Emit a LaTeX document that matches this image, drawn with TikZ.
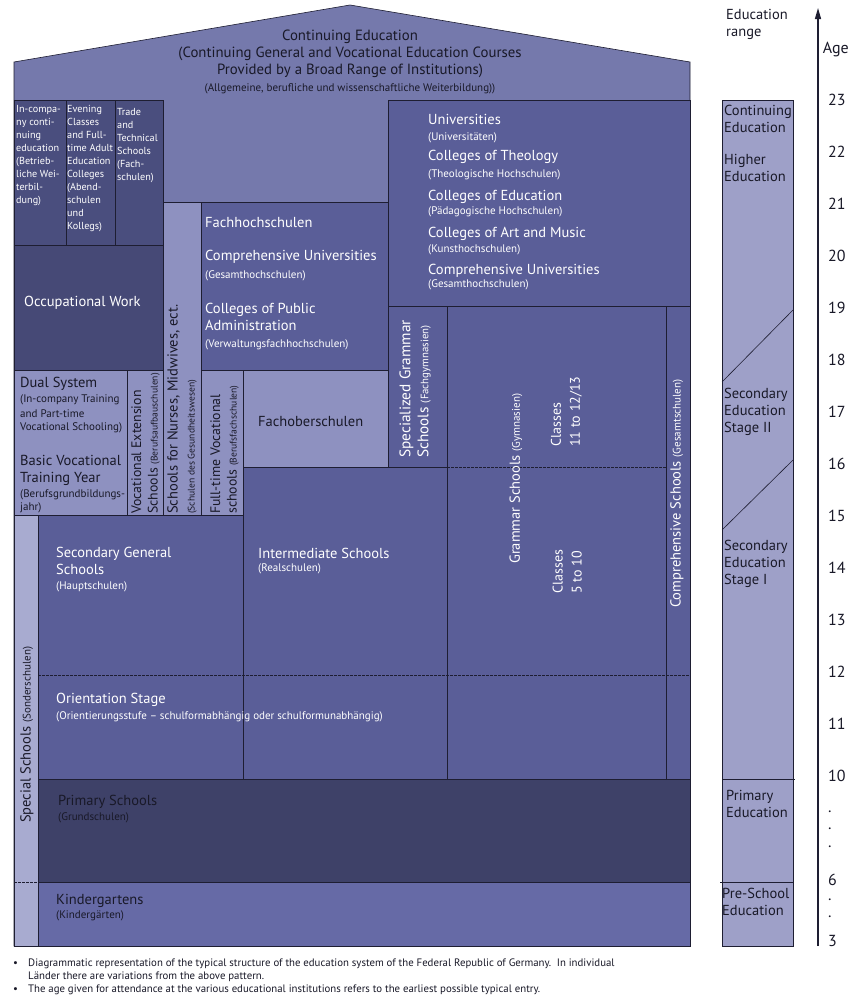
\documentclass[tikz,border=0pt]{standalone}
\usepackage{fontspec}
\setmainfont{PT Sans}
\usetikzlibrary{arrows.meta}

\definecolor{roofc}{RGB}{117,121,172}
\definecolor{midc}{RGB}{90,94,152}
\definecolor{darkc}{RGB}{74,78,126}
\definecolor{occc}{RGB}{70,73,118}
\definecolor{primc}{RGB}{62,65,104}
\definecolor{lightc}{RGB}{142,145,192}
\definecolor{specc}{RGB}{168,171,208}
\definecolor{kindc}{RGB}{102,106,166}
\definecolor{rangec}{RGB}{158,160,200}
\definecolor{linec}{RGB}{30,30,50}
\definecolor{darktxt}{RGB}{25,25,40}

\newcommand\ttlsz{\fontsize{14.8}{17}\selectfont}
\newcommand\bigsz{\fontsize{14.5}{17}\selectfont}
\newcommand\vbigsz{\fontsize{13.8}{16.5}\selectfont}
\newcommand\cellsz{\fontsize{10.2}{13}\selectfont}
\newcommand\smsz{\fontsize{11}{13}\selectfont}
\newcommand\vsmsz{\fontsize{9.6}{12}\selectfont}
\newcommand\rngsz{\fontsize{14.5}{16.8}\selectfont}
\newcommand\agesz{\fontsize{16}{18}\selectfont}
\newcommand\notesz{\fontsize{10.8}{13}\selectfont}

\begin{document}
\begin{tikzpicture}[x=1pt,y=-1pt,
box/.style={draw=linec,line width=0.6pt,fill=#1},
dline/.style={draw=linec,line width=0.6pt,dashed,dash pattern=on 2.5pt off 1.5pt},
wbig/.style={anchor=west,text=white,font=\bigsz},
wsm/.style={anchor=west,text=white,font=\smsz},
dbig/.style={anchor=west,text=darktxt,font=\bigsz},
dsm/.style={anchor=west,text=darktxt,font=\smsz},
cell/.style={anchor=north west,align=left,text=white,font=\cellsz},
vert/.style={rotate=90,align=left},
rng/.style={anchor=north west,align=left,text=darktxt,font=\rngsz},
age/.style={anchor=west,text=darktxt,font=\agesz},
note/.style={anchor=west,text=darktxt,font=\notesz}]
\tikzstyle{every node}=[inner sep=0pt]
\fill[white] (0,0) rectangle (850,1001);
\useasboundingbox (0,0) rectangle (850,1001);

% house
\draw[box=roofc] (14,946) -- (14,62) -- (350,5) -- (690,62) -- (690,946) -- cycle;
\node[font=\ttlsz,text=darktxt,align=center] (cont) at (350,54) {Continuing Education\\(Continuing General and Vocational Education Courses\\Provided by a Broad Range of Institutions)};
\node[font=\smsz,text=darktxt] (contde) at (350,89) {(Allgemeine, berufliche und wissenschaftliche Weiterbildung))};

\draw[box=darkc] (14,100) rectangle (66,245);
\draw[box=darkc] (66,100) rectangle (115,245);
\draw[box=darkc] (115,100) rectangle (163,245);
\draw[box=occc] (14,245) rectangle (163,370);
\draw[box=midc] (388,100) rectangle (690,306);
\draw[box=lightc] (163,202) rectangle (201,515);
\draw[box=midc] (201,202) rectangle (388,370);
\draw[box=lightc] (14,370) rectangle (127,515);
\draw[box=lightc] (127,370) rectangle (163,515);
\draw[box=lightc] (201,370) rectangle (243,515);
\draw[box=lightc] (243,370) rectangle (388,467);
\draw[box=midc] (388,306) rectangle (447,467);
\draw[box=midc] (447,306) rectangle (666,779);
\draw[box=midc] (666,306) rectangle (690,779);
\draw[box=midc] (243,467) rectangle (447,779);
\draw[box=midc] (38,515) rectangle (243,779);
\draw[box=specc] (14,515) rectangle (38,946);
\draw[box=primc] (38,779) rectangle (690,882);
\draw[box=kindc] (38,882) rectangle (690,946);
\draw[dline] (447,467) -- (666,467);
\draw[dline] (38,675) -- (690,675);
\draw[dline] (14,882) -- (38,882);

% continuing education cells
\node[cell] (incomp) at (16,105) {In-compa-\\ny conti-\\nuing\\education\\(Betrieb-\\liche Wei-\\terbil-\\dung)};
\node[cell] (evening) at (67,105) {Evening\\Classes\\and Full-\\time Adult\\Education\\Colleges\\(Abend-\\schulen\\und\\Kollegs)};
\node[cell] (trade) at (117,108) {Trade\\and\\Technical\\Schools\\(Fach-\\schulen)};
\node[wbig] (occ) at (24,303) {Occupational Work};

% higher education
\node[wbig] (uni) at (428,119) {Universities};
\node[wsm] (unide) at (428,138) {(Universitäten)};
\node[wbig] (theo) at (428,157) {Colleges of Theology};
\node[wsm] (theode) at (428,175) {(Theologische Hochschulen)};
\node[wbig] (educ) at (428,197) {Colleges of Education};
\node[wsm] (educde) at (428,212) {(Pädagogische Hochschulen)};
\node[wbig] (art) at (428,234) {Colleges of Art and Music};
\node[wsm] (artde) at (428,250) {(Kunsthochschulen)};
\node[wbig] (comp) at (428,271) {Comprehensive Universities};
\node[wsm] (compde) at (428,285) {(Gesamthochschulen)};

\node[wbig] (fh) at (205,223) {Fachhochschulen};
\node[wbig] (fhcomp) at (205,257) {Comprehensive Universities};
\node[wsm] (fhcompde) at (205,276) {(Gesamthochschulen)};
\node[wbig,align=left] (admin) at (205,317) {Colleges of Public\\Administration};
\node[wsm] (adminde) at (205,345) {(Verwaltungsfachhochschulen)};

% secondary stage II
\node[dbig] (dual) at (20,384) {Dual System};
\node[dsm] (dual1) at (20,400) {(In-company Training};
\node[dsm] (dual2) at (20,414) {and Part-time};
\node[dsm] (dual3) at (20,428) {Vocational Schooling)};
\node[dbig,align=left] (basic) at (20,470) {Basic Vocational\\Training Year};
\node[dsm] (basic1) at (20,495) {(Berufsgrundbildungs-};
\node[dsm] (basic2) at (20,508) {jahr)};
\node[dbig,vert,anchor=south west,font=\vbigsz] (vocext) at (160,514) {Vocational Extension\\Schools {\vsmsz(Berufsaufbauschulen)}};
\node[dbig,vert,anchor=south west] (nurse) at (197,514) {Schools for Nurses, Midwives, ect.\\{\vsmsz(Schulen des Gesundheitswesen)}};
\node[dbig,vert,anchor=south west,font=\vbigsz] (fulltime) at (239,514) {Full-time Vocational\\schools {\vsmsz(Berufsfachschulen)}};
\node[dbig] (fos) at (258,422) {Fachoberschulen};
\node[wbig,vert,anchor=south west,font=\fontsize{15.3}{18}\selectfont] (fachgym) at (431,458) {Specialized Grammar\\Schools {\fontsize{10.8}{13}\selectfont(Fachgymnasien)}};
\node[wbig,vert,anchor=west] (gym) at (516,564) {Grammar Schools {\smsz(Gymnasien)}};
\node[wbig,vert,anchor=south west,font=\fontsize{14}{19}\selectfont] (cls11) at (582,447) {Classes\\11 to 12/13};
\node[wbig,vert,anchor=south west,font=\fontsize{14}{19}\selectfont] (cls5) at (582,594) {Classes\\5 to 10};
\node[wbig,vert,anchor=west] (gesamt) at (677,608) {Comprehensive Schools {\smsz(Gesamtschulen)}};

% secondary stage I
\node[wbig,align=left] (haupt) at (56,561) {Secondary General\\Schools};
\node[wsm] (hauptde) at (56,587) {(Hauptschulen)};
\node[wbig] (real) at (258,553) {Intermediate Schools};
\node[wsm] (realde) at (258,569) {(Realschulen)};
\node[wbig] (orient) at (56,700) {Orientation Stage};
\node[wsm] (orientde) at (56,717) {(Orientierungsstufe – schulformabhängig oder schulformunabhängig)};
\node[dbig,vert,anchor=west] (sonder) at (27,823) {Special Schools {\smsz(Sonderschulen)}};

% primary and pre-school
\node[dbig] (prim) at (58,802) {Primary Schools};
\node[dsm] (primde) at (58,818) {(Grundschulen)};
\node[dbig] (kind) at (56,901) {Kindergartens};
\node[dsm] (kindde) at (56,916) {(Kindergärten)};

% education range
\node[rng] (rnghead) at (726,9) {Education\\range};
\draw[box=rangec] (722,100) rectangle (793,946);
\draw[draw=linec,line width=0.6pt] (722,382) -- (793,310);
\draw[draw=linec,line width=0.6pt] (722,530) -- (793,460);
\draw[draw=linec,line width=0.6pt] (722,779) -- (795,779);
\draw[draw=linec,line width=0.6pt] (720,882) -- (793,882);
\node[rng] (rngcont) at (724,105) {Continuing\\Education};
\node[rng] (rnghigh) at (724,154) {Higher\\Education};
\node[rng] (rngsec2) at (724,388) {Secondary\\Education\\Stage II};
\node[rng] (rngsec1) at (724,540) {Secondary\\Education\\Stage I};
\node[rng] (rngprim) at (726,790) {Primary\\Education};
\node[rng] (rngpre) at (722,888) {Pre-School\\Education};

% age axis
\coordinate (axbot) at (818,946);
\coordinate (axtop) at (818,8);
\draw[-{Triangle[length=11pt,width=6pt]},line width=1.3pt,draw=linec,fill=linec] (axbot) -- (axtop);
\node[age,anchor=east] (agehead) at (849,50) {Age};
\foreach \a [count=\i from 0] in {23,22,...,10}
  \node[age] (age\a) at (828,100+52*\i) {\a};
\foreach \d/\y in {a/812,b/829,c/847,d/900,e/917}
  \node[age] (dot\d) at (828,\y) {.};
\node[age] (age6) at (828,880) {6};
\node[age] (age3) at (828,941) {3};

% notes
\node[note] (bul1) at (13,964) {\textbullet};
\node[note] (bul2) at (13,990) {\textbullet};
\node[note] (note1) at (28,964) {Diagrammatic representation of the typical structure of the education system of the Federal Republic of Germany.\ \ In individual};
\node[note] (note1b) at (28,977) {Länder there are variations from the above pattern.};
\node[note] (note2) at (28,990) {The age given for attendance at the various educational institutions refers to the earliest possible typical entry.};
\end{tikzpicture}
\end{document}
